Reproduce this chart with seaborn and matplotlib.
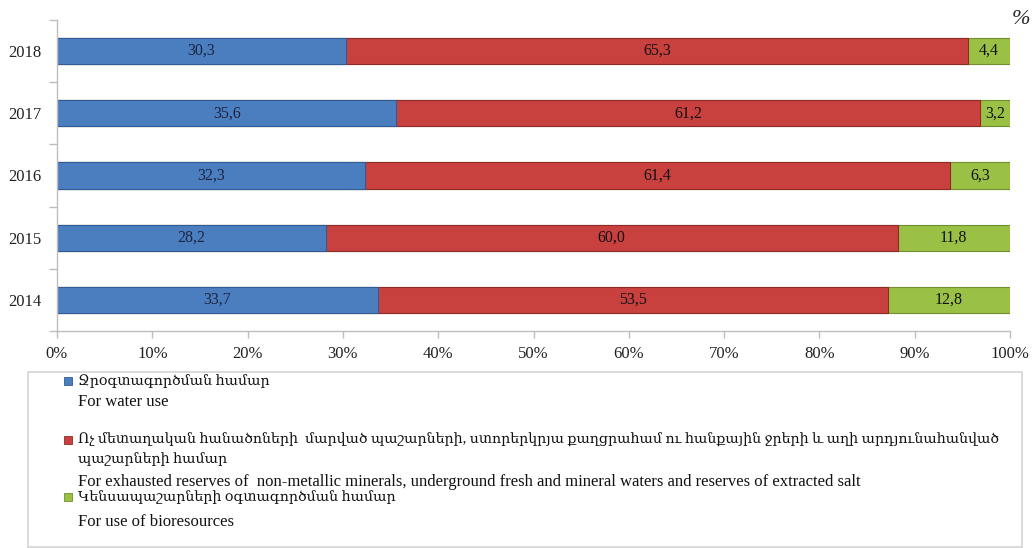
import numpy as np
import pandas as pd
import matplotlib
matplotlib.use("Agg")
import matplotlib.pyplot as plt
from matplotlib.patches import Rectangle
from matplotlib.ticker import FixedLocator, PercentFormatter
import seaborn as sns

# DATA
years = ["2018", "2017", "2016", "2015", "2014"]
water_use = [30.3, 35.6, 32.3, 28.2, 33.7]
exhausted_reserves = [65.3, 61.2, 61.4, 60.0, 53.5]
bioresources = [4.4, 3.2, 6.3, 11.8, 12.8]

legend_hy = [
    "Ջրօգտագործման համար",
    "Ոչ մետաղական հանածոների  մարված պաշարների, ստորերկրյա քաղցրահամ ու հանքային ջրերի և աղի արդյունահանված\nպաշարների համար",
    "Կենսապաշարների օգտագործման համար",
]
legend_en = [
    "For water use",
    "For exhausted reserves of  non-metallic minerals, underground fresh and mineral waters and reserves of extracted salt",
    "For use of bioresources",
]

COLORS = ["#4a7ebf", "#c8413f", "#9bc046"]
EDGES = ["#2f5c96", "#8e2a28", "#6e8f2c"]

sns.set_theme(style="white")
FONT = ["Liberation Serif", "DejaVu Serif", "DejaVu Sans"]
plt.rcParams["font.family"] = FONT

df = pd.DataFrame({
    "year": years,
    "water": water_use,
    "exhausted": exhausted_reserves,
    "bio": bioresources,
})
df["c1"] = df["water"]
df["c2"] = df["water"] + df["exhausted"]
df["c3"] = df["c2"] + df["bio"]

fig = plt.figure(figsize=(10.35, 5.48), dpi=100)
ax = fig.add_axes([57 / 1035, 1 - 331 / 548, (1010 - 57) / 1035, (331 - 20) / 548])

# stacked bars: draw cumulative totals back to front
for col, color, edge in zip(["c3", "c2", "c1"], COLORS[::-1], EDGES[::-1]):
    sns.barplot(data=df, x=col, y="year", order=years, orient="h",
                color=color, edgecolor=edge, linewidth=0.8,
                width=0.42, saturation=1, ax=ax)

# segment labels
for i, row in df.iterrows():
    segs = [(row["water"], 0), (row["exhausted"], row["c1"]), (row["bio"], row["c2"])]
    for j, (val, start) in enumerate(segs):
        ax.text(start + val / 2, i, f"{val:.1f}".replace(".", ","),
                ha="center", va="center", fontsize=11.5,
                color="#1c2440" if j == 0 else "#111111", family=FONT)

ax.set_xlim(0, 100)
ax.set_ylim(4.5, -0.5)
ax.xaxis.set_major_locator(FixedLocator(np.arange(0, 101, 10)))
ax.xaxis.set_major_formatter(PercentFormatter(decimals=0))
ax.set_xlabel("")
ax.set_ylabel("")

# y ticks on category boundaries, labels at centres
ax.yaxis.set_major_locator(FixedLocator(np.arange(-0.5, 5, 1)))
ax.yaxis.set_minor_locator(FixedLocator(np.arange(5)))
ax.set_yticklabels([], minor=False)
ax.set_yticklabels(years, minor=True)
ax.tick_params(axis="y", which="minor", length=0, pad=11, labelsize=12, labelcolor="#222222")
ax.tick_params(axis="y", which="major", length=6, color="#bdbdbd", width=1, left=True)
ax.tick_params(axis="x", length=5, color="#bdbdbd", width=1, bottom=True,
               labelsize=12, labelcolor="#222222", pad=6)

for side in ["top", "right"]:
    ax.spines[side].set_visible(False)
for side in ["left", "bottom"]:
    ax.spines[side].set_color("#bdbdbd")
    ax.spines[side].set_linewidth(1)

fig.text(1021 / 1035, 1 - 19 / 548, "%", fontsize=16, style="italic",
         ha="center", va="center", family=FONT)

# legend box
W, H = 1035, 548
fig.patches.append(Rectangle((28 / W, 1 - 547 / H), (1022 - 28) / W, (547 - 372) / H,
                             transform=fig.transFigure, fill=False,
                             edgecolor="#d4d4d4", linewidth=1.2))
hy_y = [381, 440, 497]
en_y = [402, 482, 522]
for k in range(3):
    fig.patches.append(Rectangle((64 / W, 1 - (hy_y[k] + 4) / H), 8 / W, 8 / H,
                                 transform=fig.transFigure, facecolor=COLORS[k],
                                 edgecolor=EDGES[k], linewidth=0.6))
    fig.text(78 / W, 1 - (hy_y[k] - 7) / H, legend_hy[k], fontsize=10.2,
             ha="left", va="top", family=FONT, linespacing=1.45, color="#111111")
    fig.text(78 / W, 1 - en_y[k] / H, legend_en[k], fontsize=12,
             ha="left", va="center", family=FONT, color="#111111")

fig.savefig("out.png", dpi=100)
